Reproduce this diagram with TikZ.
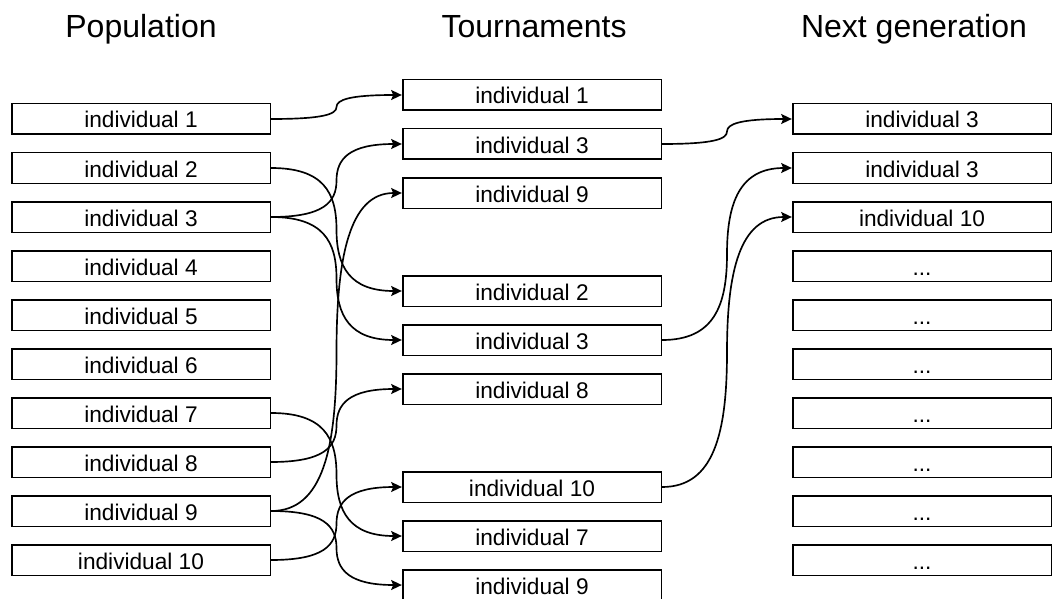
\documentclass[tikz,border=0pt]{standalone}
\usepackage{fontspec}
\setmainfont{Liberation Sans}
\usepackage{tikz}
\usetikzlibrary{arrows.meta,positioning,calc}
\tikzstyle{box} = [draw, line width=1.25pt, minimum width=194pt, minimum height=23pt, inner sep=0pt, text height=13.5pt, text depth=0pt, font=\fontsize{17}{19}\selectfont]
\tikzstyle{title} = [anchor=base, font=\fontsize{24}{28}\selectfont]
\tikzstyle{arrow} = [line width=1.25pt, -{Stealth[length=8pt,width=7.5pt,inset=1.5pt]}]
\newcommand{\etcdots}{...}

\begin{document}
\begin{tikzpicture}[x=0.75pt, y=-0.75pt]
    \useasboundingbox (0,0) rectangle (1052,599);

    % Titles
    \node[title] (poptitle) at (141,38) {Population};
    \node[title] (tourtitle) at (534,38) {Tournaments};
    \node[title] (nexttitle) at (914,38) {Next generation};

    % Population
    \foreach \i in {1,...,10} {
        \node[box] (p\i) at (141,{119+49*(\i-1)}) {individual \i};
    }

    % Tournaments (three groups of three)
    \foreach \i/\k/\lbl in {1/0/1, 2/1/3, 3/2/9, 4/4/2, 5/5/3, 6/6/8, 7/8/10, 8/9/7, 9/10/9} {
        \node[box] (t\i) at (532,{95+49*\k}) {individual \lbl};
    }

    % Next generation
    \foreach \i/\lbl in {1/individual 3, 2/individual 3, 3/individual 10, 4/\etcdots, 5/\etcdots, 6/\etcdots, 7/\etcdots, 8/\etcdots, 9/\etcdots, 10/\etcdots} {
        \node[box] (n\i) at (922,{119+49*(\i-1)}) {\lbl};
    }

    % Selections: two half curves, vertical through the midpoint
    \foreach \a/\b in {p1/t1, p3/t2, p9/t3, p2/t4, p3/t5, p8/t6, p10/t7, p7/t8, p9/t9, t2/n1, t5/n2, t7/n3} {
        \draw[arrow] let \p1=(\a.east), \p2=(\b.west), \p3=($(\p1)!0.5!(\p2)$),
            \n2={0.8*(\x3-\x1)}, \n3={0.3*(\y2-\y1)} in
            (\p1) .. controls +(\n2,0) and ($(\p3)-(0,\n3)$) .. (\p3)
                  .. controls ($(\p3)+(0,\n3)$) and +(-\n2,0) .. (\p2);
    }
\end{tikzpicture}
\end{document}
